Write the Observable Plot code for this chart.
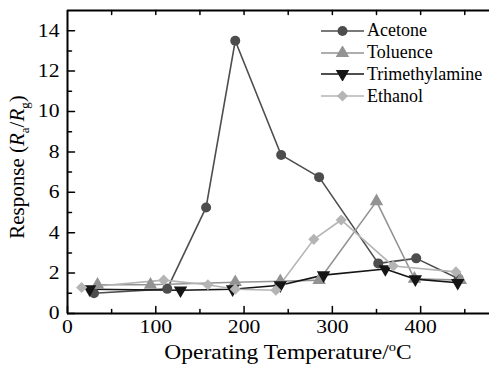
<!DOCTYPE html>
<html><head><meta charset="utf-8">
<script src="https://cdn.jsdelivr.net/npm/d3@7"></script>
<script src="https://cdn.jsdelivr.net/npm/@observablehq/plot@0.6"></script>
<style>
body{margin:0;background:#fff;}
#chart{position:relative;width:489px;height:367px;overflow:hidden;}
#legend{position:absolute;left:321px;top:20px;font-family:"Liberation Serif","Times New Roman",Times,serif;font-size:18px;color:#000;}
#legend .row{display:flex;align-items:center;height:21.8px;}
#legend svg{display:block;}
#chart svg text{font-family:"Liberation Serif","Times New Roman",Times,serif;}
</style></head><body><div id="chart"></div>
<script>
const series = ["Acetone", "Toluence", "Trimethylamine", "Ethanol"];
const colors = ["#4d4d4d", "#939393", "#151515", "#b4b4b4"];
const symbols = ["circle", "triangle", "triangle", "diamond2"];
const rotations = [0, 0, 180, 0];

const acetoneT = [30, 113, 157, 190, 242, 285, 352, 395, 443];
const acetoneR = [1.0, 1.22, 5.25, 13.5, 7.85, 6.75, 2.48, 2.73, 1.72];
const tolueneT = [34, 94, 190, 241, 285, 350, 393, 445];
const tolueneR = [1.42, 1.42, 1.55, 1.6, 1.65, 5.55, 1.72, 1.65];
const tmaT = [25, 128, 187, 241, 290, 360, 394, 442];
const tmaR = [1.2, 1.15, 1.2, 1.4, 1.9, 2.2, 1.7, 1.52];
const ethanolT = [16, 109, 159, 190, 236, 279, 310, 369, 440];
const ethanolR = [1.29, 1.65, 1.42, 1.2, 1.15, 3.67, 4.63, 2.35, 2.06];

const xTicks = [0, 100, 200, 300, 400];
const xMinor = [50, 150, 250, 350, 450];
const xTopTicks = [50, 100, 150, 200, 250, 300, 350, 400, 450];
const yTicks = [0, 2, 4, 6, 8, 10, 12, 14];
const yMinor = [1, 3, 5, 7, 9, 11, 13];
const xDomain = [0, 478];
const yDomain = [0, 15];

const ts = [acetoneT, tolueneT, tmaT, ethanolT];
const rs = [acetoneR, tolueneR, tmaR, ethanolR];
const data = series.flatMap((s, i) => ts[i].map((t, j) => ({s, t, r: rs[i][j]})));

const font = "'Liberation Serif','Times New Roman',Times,serif";
const tickShape = {draw(context, l) { context.moveTo(0, 0); context.lineTo(0, -l); }};
const tick = (values, opts) => Plot.vector(values, {anchor: "start", shape: tickShape, stroke: "#000", strokeWidth: 1.5, ...opts});

const chart = Plot.plot({
  width: 489, height: 367,
  marginLeft: 67, marginRight: 0, marginTop: 10, marginBottom: 54,
  style: {fontFamily: font, background: "#fff", color: "#000"},
  x: {domain: xDomain},
  y: {domain: yDomain},
  marks: [
    Plot.axisX({ticks: xTicks, tickSize: 0, tickPadding: 6, fontSize: 18.5, label: null}),
    Plot.axisY({ticks: yTicks, tickSize: 0, tickPadding: 8, fontSize: 18.5, label: null}),
    tick(xTicks, {x: d => d, frameAnchor: "bottom", rotate: 0, length: 7}),
    tick(xMinor, {x: d => d, frameAnchor: "bottom", rotate: 0, length: 4}),
    tick(xTopTicks, {x: d => d, frameAnchor: "top", rotate: 180, length: 4}),
    tick(yTicks, {y: d => d, frameAnchor: "left", rotate: 90, length: 7}),
    tick(yMinor, {y: d => d, frameAnchor: "left", rotate: 90, length: 4}),
    Plot.ruleX([xDomain[0]], {strokeWidth: 2}),
    Plot.ruleY([yDomain[0], yDomain[1]], {strokeWidth: 2}),
    ...series.map((s, i) => Plot.line(data.filter(d => d.s === s), {x: "t", y: "r", stroke: colors[i], strokeWidth: 1.6})),
    ...series.map((s, i) => Plot.dot(data.filter(d => d.s === s), {x: "t", y: "r", fill: colors[i], stroke: "none", symbol: () => symbols[i], rotate: rotations[i], r: 5})),
  ]
});

const container = document.getElementById("chart");
container.appendChild(chart);
const svg = d3.select(chart);

// widen tick labels horizontally like the reference: wrap each label in a scaled group
svg.selectAll("text").nodes().forEach(node => {
  const anchor = getComputedStyle(node).textAnchor;
  const g = document.createElementNS("http://www.w3.org/2000/svg", "g");
  node.parentNode.insertBefore(g, node);
  g.appendChild(node);
  const bb = g.getBBox();
  const ax = anchor === "end" ? bb.x + bb.width : anchor === "start" ? bb.x : bb.x + bb.width / 2;
  g.setAttribute("transform", `translate(${ax},0) scale(1.17,1) translate(${-ax},0)`);
});

// y title
const yt = svg.append("text")
  .attr("transform", "translate(24,167) rotate(-90)")
  .attr("text-anchor", "middle")
  .attr("font-size", 21).attr("fill", "#000");
yt.append("tspan").text("Response (");
yt.append("tspan").attr("font-style", "italic").text("R");
yt.append("tspan").attr("font-size", 13).attr("dy", 5).text("a");
yt.append("tspan").attr("dy", -5).text("/");
yt.append("tspan").attr("font-style", "italic").text("R");
yt.append("tspan").attr("font-size", 13).attr("dy", 5).text("g");
yt.append("tspan").attr("dy", -5).text(")");
// x title
const xt = svg.append("text")
  .attr("transform", "translate(288,359) scale(1.12,1)")
  .attr("text-anchor", "middle")
  .attr("font-size", 21).attr("fill", "#000");
xt.append("tspan").text("Operating Temperature/");
xt.append("tspan").attr("font-size", 13).attr("dy", -8).text("o");
xt.append("tspan").attr("dy", 8).text("C");

// legend
const legend = d3.select(container).append("div").attr("id", "legend");
series.forEach((s, i) => {
  const row = legend.append("div").attr("class", "row");
  const sw = row.append("svg").attr("width", 46).attr("height", 14);
  sw.append("line").attr("x1", 0).attr("x2", 43).attr("y1", 7).attr("y2", 7)
    .attr("stroke", colors[i]).attr("stroke-width", 1.6);
  const sym = {circle: d3.symbolCircle, triangle: d3.symbolTriangle, diamond2: d3.symbolDiamond2}[symbols[i]];
  sw.append("path").attr("d", d3.symbol(sym, Math.PI * 25)())
    .attr("transform", `translate(21.5,7) rotate(${rotations[i]})`)
    .attr("fill", colors[i]);
  row.append("span").text(s);
});
</script></body></html>
